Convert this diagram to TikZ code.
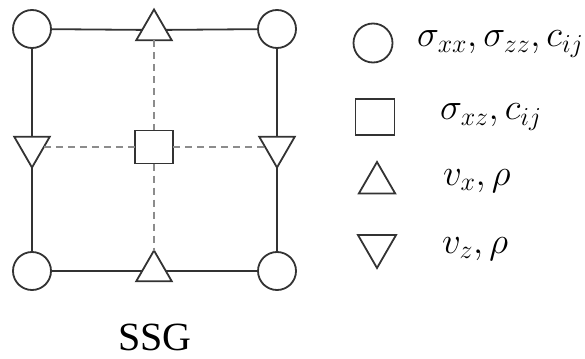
\RequirePackage{fix-cm}
\documentclass[tikz,border=0pt]{standalone}
\usepackage{fontspec}
\setmainfont{Liberation Serif}
\usetikzlibrary{shapes.geometric}
\begin{document}
\begin{tikzpicture}[x=1pt,y=-1pt,
  solidline/.style={line width=1.8pt, draw=black!80},
  dashline/.style={line width=1.3pt, draw=black!45, dash pattern=on 7pt off 5pt},
  base/.style={draw=black!80, line width=1.8pt, fill=white, inner sep=0pt, outer sep=0pt},
  ptcirc/.style={base, circle, minimum size=38pt},
  ptsq/.style={base, rectangle, minimum width=38pt, minimum height=33pt},
  ptup/.style={base, regular polygon, regular polygon sides=3, minimum size=41pt},
  ptdown/.style={ptup, shape border rotate=180},
  legtext/.style={anchor=base west, inner sep=0pt, font=\fontsize{37}{40}\selectfont},
]
\useasboundingbox (0,0) rectangle (585,358);

% staggered grid cell
\node[ptcirc] (tl) at (32,29) {};
\node[ptcirc] (tr) at (277,29) {};
\node[ptcirc] (bl) at (32,271) {};
\node[ptcirc] (br) at (277,271) {};
\node[ptup] (tm) at (154,30) {};
\node[ptup] (bm) at (154,271) {};
\node[ptdown] (ml) at (32,147) {};
\node[ptdown] (mr) at (277,147) {};
\node[ptsq] (c) at (154,147) {};

\draw[solidline] (tl) -- (tm) -- (tr);
\draw[solidline] (bl) -- (bm) -- (br);
\draw[solidline] (tl) -- (ml) -- (bl);
\draw[solidline] (tr) -- (mr) -- (br);
\draw[dashline] (tm) -- (c) -- (bm);
\draw[dashline] (ml) -- (c) -- (mr);

% legend
\node[ptcirc, minimum size=39pt] (lc) at (373,43) {};
\node[ptsq, minimum width=39pt, minimum height=36pt] (ls) at (375,117) {};
\node[ptup, minimum size=42pt] (lu) at (377,183) {};
\node[ptdown, minimum size=44pt] (ld) at (377,246) {};

\node[legtext] (t1) at (417,47) {$\sigma_{xx}, \sigma_{zz}, c_{ij}$};
\node[legtext] (t2) at (440,120) {$\sigma_{xz}, c_{ij}$};
\node[legtext] (t3) at (443,185) {$v_{x}, \rho$};
\node[legtext] (t4) at (442,253) {$v_{z}, \rho$};

\node[anchor=base, inner sep=0pt, text depth=0pt, font=\fontsize{40}{42}\selectfont] (ssg) at (155,350) {SSG};
\end{tikzpicture}
\end{document}
